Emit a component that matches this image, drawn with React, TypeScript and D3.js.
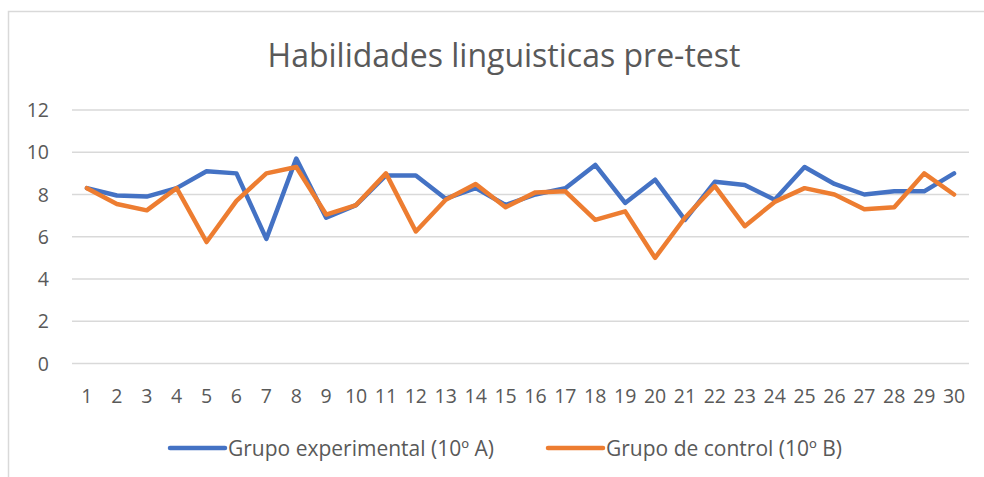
//line chart comparing the two groups on the pre-test
import * as d3 from 'd3';
import React, { useEffect, useRef } from 'react';

const categories = Array.from({ length: 30 }, (_, i) => String(i + 1));
const yTicks = [0, 2, 4, 6, 8, 10, 12];
const seriesNames = ['Grupo experimental (10º A)', 'Grupo de control (10º B)'];
const experimental = [
  8.3, 7.95, 7.9, 8.3, 9.1, 9.0, 5.9, 9.7, 6.9, 7.5, 8.9, 8.9, 7.8, 8.3, 7.5,
  8.0, 8.3, 9.4, 7.6, 8.7, 6.8, 8.6, 8.45, 7.75, 9.3, 8.5, 8.0, 8.15, 8.15, 9.0
];
const control = [
  8.3, 7.55, 7.25, 8.3, 5.75, 7.7, 9.0, 9.3, 7.05, 7.5, 9.0, 6.25, 7.75, 8.5,
  7.4, 8.1, 8.15, 6.8, 7.2, 5.0, 6.9, 8.4, 6.5, 7.65, 8.3, 8.0, 7.3, 7.4, 9.0,
  8.0
];
const colors = ['#4472c4', '#ed7d31'];

const FONT = '"Open Sans", "Noto Sans", sans-serif';

const App = () => {
  const svgRef = useRef<SVGSVGElement>(null);

  useEffect(() => {
    const svg = d3.select(svgRef.current);
    svg.selectAll('*').remove();

    //outer chart border
    svg
      .append('rect')
      .attr('x', 8.5)
      .attr('y', 11.5)
      .attr('width', 995)
      .attr('height', 480)
      .attr('fill', '#fff')
      .attr('stroke', '#d9d9d9')
      .attr('stroke-width', 1.5);

    //title
    svg
      .append('text')
      .attr('x', 504)
      .attr('y', 67)
      .attr('text-anchor', 'middle')
      .attr('font-family', FONT)
      .attr('font-size', 32)
      .attr('fill', '#595959')
      .text('Habilidades linguisticas pre-test');

    const x = d3.scaleBand().domain(categories).range([72, 969]);
    const y = d3.scaleLinear().domain([0, 12]).range([363.5, 110]);

    //horizontal gridlines
    svg
      .append('g')
      .selectAll('line')
      .data(yTicks)
      .enter()
      .append('line')
      .attr('x1', 72)
      .attr('x2', 969)
      .attr('y1', (d) => y(d))
      .attr('y2', (d) => y(d))
      .attr('stroke', '#d9d9d9')
      .attr('stroke-width', 1.5);

    //y axis labels
    svg
      .append('g')
      .selectAll('text')
      .data(yTicks)
      .enter()
      .append('text')
      .attr('x', 49)
      .attr('y', (d) => y(d) + 7)
      .attr('text-anchor', 'end')
      .attr('font-family', FONT)
      .attr('font-size', 19.5)
      .attr('fill', '#595959')
      .text((d) => d);

    //x axis labels
    svg
      .append('g')
      .selectAll('text')
      .data(categories)
      .enter()
      .append('text')
      .attr('x', (d) => x(d)! + x.bandwidth() / 2)
      .attr('y', 402.5)
      .attr('text-anchor', 'middle')
      .attr('font-family', FONT)
      .attr('font-size', 19.5)
      .attr('fill', '#595959')
      .text((d) => d);

    //the two series
    const line = d3
      .line<number>()
      .x((d, i) => x(categories[i])! + x.bandwidth() / 2)
      .y((d) => y(d));

    [experimental, control].forEach((vals, k) => {
      svg
        .append('path')
        .datum(vals)
        .attr('d', line)
        .attr('fill', 'none')
        .attr('stroke', colors[k])
        .attr('stroke-width', 4.5)
        .attr('stroke-linejoin', 'round')
        .attr('stroke-linecap', 'round');
    });

    //legend
    const legendX = [170, 548];
    seriesNames.forEach((name, k) => {
      const g = svg.append('g');
      g.append('line')
        .attr('x1', legendX[k])
        .attr('x2', legendX[k] + 55)
        .attr('y1', 448)
        .attr('y2', 448)
        .attr('stroke', colors[k])
        .attr('stroke-width', 4.5)
        .attr('stroke-linecap', 'round');
      g.append('text')
        .attr('x', legendX[k] + 58)
        .attr('y', 456)
        .attr('font-family', FONT)
        .attr('font-size', 21)
        .attr('fill', '#595959')
        .text(name);
    });
  }, []);

  return (
    <svg
      ref={svgRef}
      width={984}
      height={477}
      style={{ position: 'absolute', left: 0, top: 0, background: '#fff' }}
    ></svg>
  );
};

export default App;
